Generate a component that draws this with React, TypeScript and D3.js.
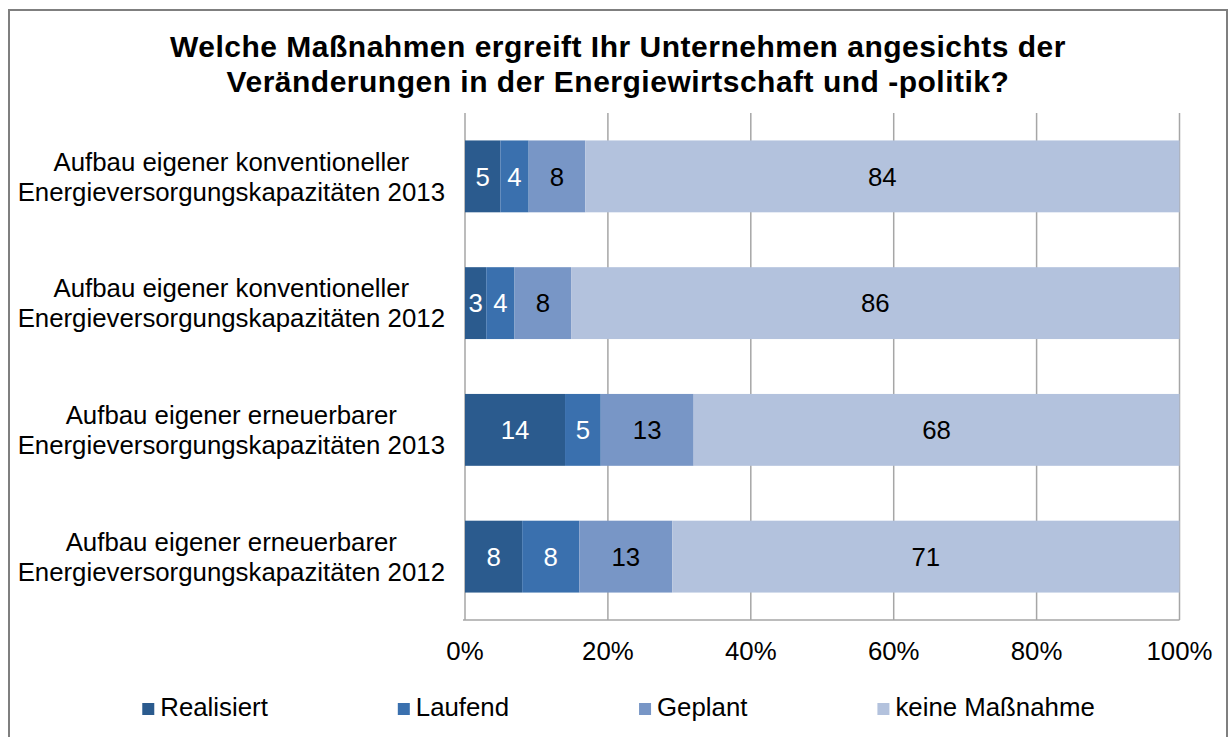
import React, { useEffect, useRef } from "react";
import * as d3 from "d3";

const TITLE = [
  "Welche Maßnahmen ergreift Ihr Unternehmen angesichts der",
  "Veränderungen in der Energiewirtschaft und -politik?",
];
const CATEGORIES = [
  ["Aufbau eigener konventioneller", "Energieversorgungskapazitäten 2013"],
  ["Aufbau eigener konventioneller", "Energieversorgungskapazitäten 2012"],
  ["Aufbau eigener erneuerbarer", "Energieversorgungskapazitäten 2013"],
  ["Aufbau eigener erneuerbarer", "Energieversorgungskapazitäten 2012"],
];
const SERIES = ["Realisiert", "Laufend", "Geplant", "keine Maßnahme"];
const REALISIERT = [5, 3, 14, 8];
const LAUFEND = [4, 4, 5, 8];
const GEPLANT = [8, 8, 13, 13];
const KEINE = [84, 86, 68, 71];
const TICKS = [0, 0.2, 0.4, 0.6, 0.8, 1];
const COLORS = ["#2B5B8E", "#3A70AE", "#7896C6", "#B3C2DD"];
const LABEL_COLORS = ["#ffffff", "#ffffff", "#000000", "#000000"];

const W = 1230;
const H = 737;
const FONT = "'Liberation Sans', Arial, sans-serif";
const FS = 25.8;

export default function App() {
  const ref = useRef<SVGSVGElement>(null);

  useEffect(() => {
    const svg = d3.select(ref.current);
    svg.selectAll("*").remove();

    const rows = CATEGORIES.map((c, i) => ({
      key: String(i),
      [SERIES[0]]: REALISIERT[i],
      [SERIES[1]]: LAUFEND[i],
      [SERIES[2]]: GEPLANT[i],
      [SERIES[3]]: KEINE[i],
    }));

    const stack = d3.stack<any>().keys(SERIES).offset(d3.stackOffsetExpand);
    const stacked = stack(rows);

    const margin = { left: 465, right: W - 1179.5, top: 113, bottom: H - 620 };
    const x = d3.scaleLinear().domain([0, 1]).range([margin.left, W - margin.right]);
    const y = d3
      .scaleBand<string>()
      .domain(rows.map((r) => r.key))
      .range([margin.top, H - margin.bottom])
      .paddingInner(0.433)
      .paddingOuter(0.2165);

    // outer border
    svg
      .append("rect")
      .attr("x", 9)
      .attr("y", 10)
      .attr("width", 1218)
      .attr("height", 760)
      .attr("fill", "#ffffff")
      .attr("stroke", "#7f7f7f")
      .attr("stroke-width", 2);

    // title
    const title = svg
      .append("text")
      .attr("font-family", FONT)
      .attr("font-weight", "bold")
      .attr("font-size", 30)
      .attr("letter-spacing", 0.5)
      .attr("text-anchor", "middle")
      .attr("fill", "#000");
    TITLE.forEach((t, i) => {
      title
        .append("tspan")
        .attr("x", 618)
        .attr("y", 57 + i * 35)
        .text(t);
    });

    // gridlines
    svg
      .append("g")
      .selectAll("line")
      .data(TICKS)
      .join("line")
      .attr("x1", (d) => x(d))
      .attr("x2", (d) => x(d))
      .attr("y1", margin.top)
      .attr("y2", H - margin.bottom)
      .attr("stroke", "#A6A6A6")
      .attr("stroke-width", 1.5);

    // bottom axis line
    svg
      .append("line")
      .attr("x1", x(0) - 2)
      .attr("x2", x(1))
      .attr("y1", H - margin.bottom)
      .attr("y2", H - margin.bottom)
      .attr("stroke", "#A6A6A6")
      .attr("stroke-width", 1.5);

    // bars
    const groups = svg
      .append("g")
      .selectAll("g")
      .data(stacked)
      .join("g")
      .attr("fill", (_d, i) => COLORS[i]);
    groups
      .selectAll("rect")
      .data((d) => d)
      .join("rect")
      .attr("x", (d) => x(d[0]))
      .attr("width", (d) => x(d[1]) - x(d[0]))
      .attr("y", (d) => y(d.data.key)!)
      .attr("height", y.bandwidth());

    // value labels
    svg
      .append("g")
      .selectAll("g")
      .data(stacked)
      .join("g")
      .attr("fill", (_d, i) => LABEL_COLORS[i])
      .selectAll("text")
      .data((s) => s.map((d) => ({ d, key: s.key })))
      .join("text")
      .attr("font-family", FONT)
      .attr("font-size", FS)
      .attr("text-anchor", "middle")
      .attr("x", (o) => (x(o.d[0]) + x(o.d[1])) / 2)
      .attr("y", (o) => y(o.d.data.key)! + y.bandwidth() / 2)
      .attr("dy", "0.36em")
      .text((o) => String(o.d.data[o.key]));

    // category labels
    const catG = svg.append("g");
    rows.forEach((r, i) => {
      const cy = y(r.key)! + y.bandwidth() / 2;
      const t = catG
        .append("text")
        .attr("font-family", FONT)
        .attr("font-size", FS)
        .attr("text-anchor", "middle")
        .attr("fill", "#000");
      const spans = CATEGORIES[i].map((line, j) =>
        t
          .append("tspan")
          .attr("y", cy - 15 + j * 30)
          .attr("dy", "0.36em")
          .text(line)
      );
      const maxW = d3.max(spans, (s) => (s.node() as SVGTSpanElement).getComputedTextLength()) || 0;
      spans.forEach((s) => s.attr("x", 445 - maxW / 2));
    });

    // x tick labels
    svg
      .append("g")
      .selectAll("text")
      .data(TICKS)
      .join("text")
      .attr("font-family", FONT)
      .attr("font-size", FS)
      .attr("text-anchor", "middle")
      .attr("x", (d) => x(d))
      .attr("y", 660)
      .attr("fill", "#000")
      .text((d) => d3.format(".0%")(d));

    // legend
    const legend = svg.append("g");
    const items = SERIES.map((s, i) => {
      const g = legend.append("g");
      g.append("rect")
        .attr("x", 0)
        .attr("y", -13)
        .attr("width", 12)
        .attr("height", 12)
        .attr("fill", COLORS[i]);
      const t = g
        .append("text")
        .attr("font-family", FONT)
        .attr("font-size", FS)
        .attr("x", 18)
        .attr("y", 0)
        .attr("fill", "#000")
        .text(s);
      const w = 18 + (t.node() as SVGTextElement).getComputedTextLength();
      return { g, w };
    });
    const gap = 130;
    const total = d3.sum(items, (it) => it.w) + gap * (items.length - 1);
    let cx = 618.5 - total / 2;
    items.forEach((it) => {
      it.g.attr("transform", `translate(${cx},716)`);
      cx += it.w + gap;
    });
  }, []);

  return (
    <svg
      ref={ref}
      width={W}
      height={H}
      style={{ position: "absolute", left: 0, top: 0, display: "block", background: "#fff" }}
    />
  );
}
